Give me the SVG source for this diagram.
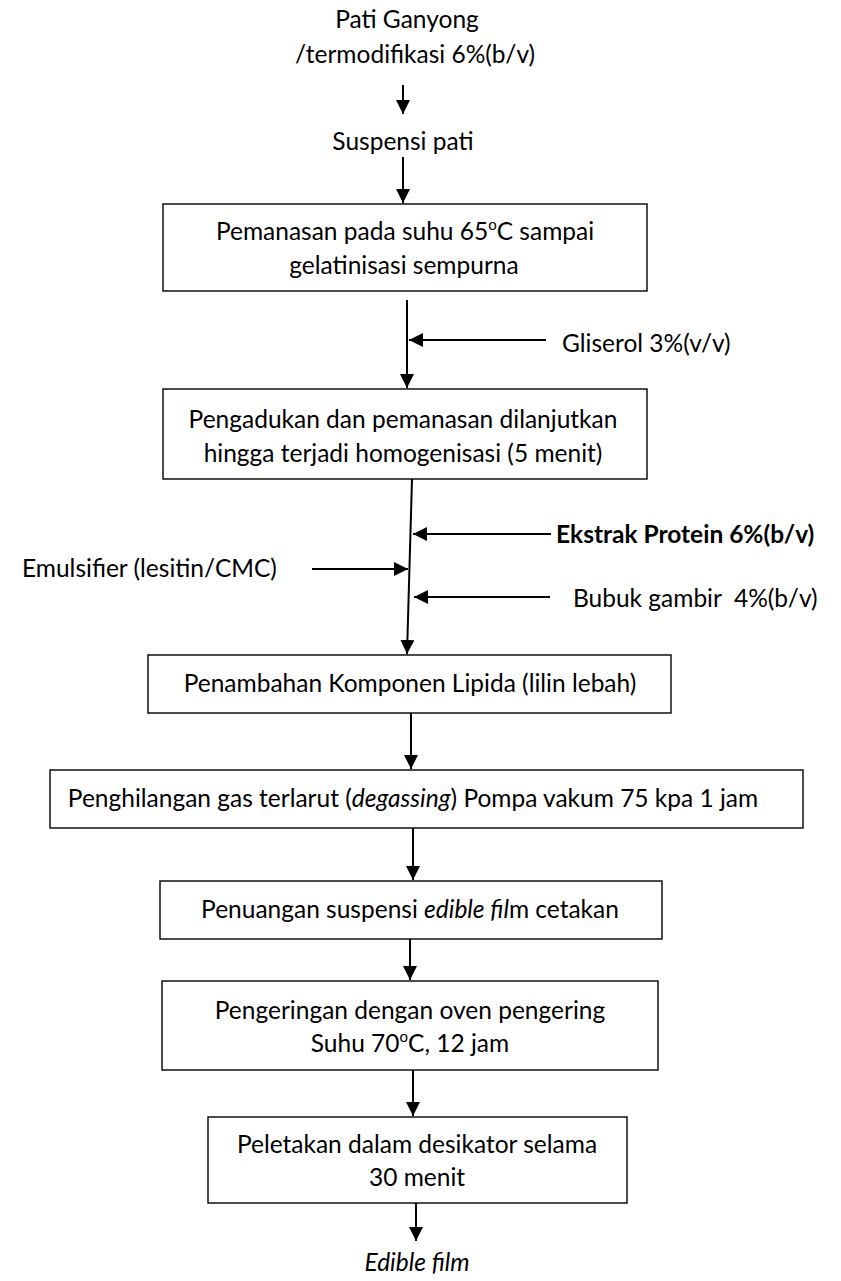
<svg xmlns="http://www.w3.org/2000/svg" width="841" height="1281" viewBox="0 0 841 1281">
<style>
text{font-family:Lato,"Open Sans","Liberation Sans",sans-serif;font-size:24.5px;fill:#000}
.c{text-anchor:middle}
.box{fill:#fff;stroke:#000;stroke-width:1.4}
.ln{stroke:#000;stroke-width:2;fill:none;marker-end:url(#ah)}
.sup{font-size:15px}
</style>
<defs>
<marker id="ah" markerUnits="userSpaceOnUse" markerWidth="14" markerHeight="16" refX="14" refY="7" orient="auto" viewBox="0 0 14 16">
<path d="M0,0 L14,7 L0,14 z" fill="#000"/>
</marker>
</defs>
<rect width="841" height="1281" fill="#fff"/>
<g id="connectors">
<line class="ln" x1="403" y1="85" x2="403" y2="114"/>
<line class="ln" x1="403" y1="157" x2="403" y2="203"/>
<line class="ln" x1="407" y1="300" x2="407" y2="388"/>
<line class="ln" x1="546" y1="340" x2="409" y2="340"/>
<line class="ln" x1="412" y1="479" x2="407" y2="654"/>
<line class="ln" x1="551" y1="534" x2="413" y2="534"/>
<line class="ln" x1="312" y1="569" x2="408" y2="569"/>
<line class="ln" x1="550" y1="597" x2="414" y2="597"/>
<line class="ln" x1="411" y1="713" x2="411" y2="769"/>
<line class="ln" x1="413" y1="828" x2="413" y2="880"/>
<line class="ln" x1="410" y1="939" x2="410" y2="980"/>
<line class="ln" x1="413" y1="1070" x2="413" y2="1116"/>
<line class="ln" x1="416" y1="1203" x2="416" y2="1241"/>
</g>
<g id="n-start">
<text class="c" x="407" y="28">Pati Ganyong</text>
<text class="c" x="415" y="63">/termodifikasi 6%(b/v)</text>
</g>
<g id="n-suspensi"><text class="c" x="403" y="150">Suspensi pati</text></g>
<g id="n-pemanasan">
<rect class="box" x="163" y="204" width="484" height="87"/>
<text class="c" x="405" y="240">Pemanasan pada suhu 65<tspan class="sup" dy="-10">o</tspan><tspan dy="10">C sampai</tspan></text>
<text class="c" x="404" y="274">gelatinisasi sempurna</text>
</g>
<g id="n-gliserol"><text x="562" y="352">Gliserol 3%(v/v)</text></g>
<g id="n-pengadukan">
<rect class="box" x="163" y="389" width="484" height="90"/>
<text class="c" x="403" y="428">Pengadukan dan pemanasan dilanjutkan</text>
<text class="c" x="403" y="462">hingga terjadi homogenisasi (5 menit)</text>
</g>
<g id="n-ekstrak"><text x="556" y="543" font-weight="bold">Ekstrak Protein 6%(b/v)</text></g>
<g id="n-emulsifier"><text x="22" y="577">Emulsifier (lesitin/CMC)</text></g>
<g id="n-bubuk"><text x="573" y="607" xml:space="preserve">Bubuk gambir  4%(b/v)</text></g>
<g id="n-lipida">
<rect class="box" x="148" y="655" width="523" height="58"/>
<text class="c" x="410" y="692">Penambahan Komponen Lipida (lilin lebah)</text>
</g>
<g id="n-degassing">
<rect class="box" x="50" y="770" width="753" height="58"/>
<text class="c" x="413" y="807">Penghilangan gas terlarut (<tspan font-style="italic">degassing</tspan>) Pompa vakum 75 kpa 1 jam</text>
</g>
<g id="n-penuangan">
<rect class="box" x="160" y="881" width="502" height="58"/>
<text class="c" x="410" y="918">Penuangan suspensi <tspan font-style="italic">edible fil</tspan>m cetakan</text>
</g>
<g id="n-pengeringan">
<rect class="box" x="162" y="981" width="496" height="89"/>
<text class="c" x="410" y="1019">Pengeringan dengan oven pengering</text>
<text class="c" x="410" y="1052">Suhu 70<tspan class="sup" dy="-10">o</tspan><tspan dy="10">C, 12 jam</tspan></text>
</g>
<g id="n-peletakan">
<rect class="box" x="208" y="1117" width="419" height="86"/>
<text class="c" x="417" y="1153">Peletakan dalam desikator selama</text>
<text class="c" x="417" y="1186">30 menit</text>
</g>
<g id="n-end"><text class="c" x="417" y="1271" font-style="italic">Edible film</text></g>
</svg>
